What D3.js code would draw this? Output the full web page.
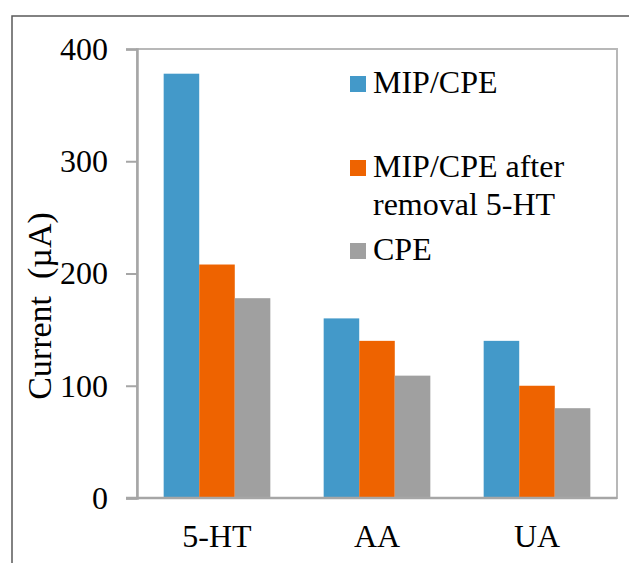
<!DOCTYPE html>
<html>
<head>
<meta charset="utf-8">
<script src="https://cdn.jsdelivr.net/npm/d3@7"></script>
<style>
  body { margin: 0; background: #fff; }
  svg text { font-family: "Liberation Serif", "Times New Roman", serif; fill: #000; }
</style>
</head>
<body>
<div id="chart"></div>
<script>
// data
var categories = ['5-HT', 'AA', 'UA'];
var series = ['MIP/CPE', 'MIP/CPE after removal 5-HT', 'CPE'];
var mip_cpe = [378, 160, 140];
var mip_after = [208, 140, 100];
var cpe = [178, 109, 80];
var y_ticks = [0, 100, 200, 300, 400];
var colors = ['#4399c9', '#ee6300', '#a0a0a0'];

var values = [mip_cpe, mip_after, cpe];
var W = 629, H = 563;
var plot = {left: 137, top: 49, right: 617, bottom: 498};

var svg = d3.select('#chart').append('svg').attr('width', W).attr('height', H);

// outer frame (only top and left visible)
svg.append('path').attr('d', 'M12,' + H + 'V16H' + W)
    .attr('fill', 'none').attr('stroke', '#5a5a5a').attr('stroke-width', 1.5);

// plot area box
svg.append('rect').attr('x', plot.left).attr('y', plot.top)
    .attr('width', plot.right - plot.left).attr('height', plot.bottom - plot.top)
    .attr('fill', 'none').attr('stroke', '#b8b8b8').attr('stroke-width', 2);

var x0 = d3.scaleBand().domain(categories).range([plot.left, plot.right])
    .paddingInner(1 / 3).paddingOuter(1 / 6);
var x1 = d3.scaleBand().domain(series).range([0, x0.bandwidth()]);
var y = d3.scaleLinear().domain([0, 400]).range([plot.bottom, plot.top]);

// bars
series.forEach(function (s, i) {
    svg.append('g').selectAll('rect').data(values[i]).enter().append('rect')
        .attr('x', function (d, k) { return x0(categories[k]) + x1(s); })
        .attr('y', function (d) { return y(d); })
        .attr('width', x1.bandwidth())
        .attr('height', function (d) { return y(0) - y(d); })
        .attr('fill', colors[i]);
});

// y axis
var y_axis = svg.append('g').attr('class', 'y_axis')
    .attr('transform', 'translate(' + plot.left + ',0)')
    .call(d3.axisLeft(y).tickValues(y_ticks).tickSize(11).tickPadding(18).tickFormat(d3.format('d')));
y_axis.select('.domain').attr('stroke', '#a6a6a6').attr('stroke-width', 2.5);
y_axis.selectAll('.tick line').attr('stroke', '#a6a6a6').attr('stroke-width', 2);
y_axis.selectAll('.tick text').attr('font-size', 32).attr('fill', '#000');

// x axis line and labels
svg.append('line').attr('x1', plot.left - 11).attr('x2', plot.right)
    .attr('y1', plot.bottom).attr('y2', plot.bottom)
    .attr('stroke', '#a6a6a6').attr('stroke-width', 2.5);
svg.append('g').selectAll('text').data(categories).enter().append('text')
    .attr('x', function (d) { return x0(d) + x0.bandwidth() / 2; })
    .attr('y', 547).attr('text-anchor', 'middle').attr('font-size', 32)
    .text(function (d) { return d; });

// y title
svg.append('text').attr('transform', 'translate(51,306) rotate(-90)')
    .attr('text-anchor', 'middle').attr('font-size', 34)
    .style('white-space', 'pre')
    .text('Current  (\u00b5A)');

// legend
var legend_rows = [
    {lines: ['MIP/CPE'], y: 93},
    {lines: ['MIP/CPE after', 'removal 5-HT'], y: 177},
    {lines: ['CPE'], y: 260}
];
legend_rows.forEach(function (row, i) {
    svg.append('rect').attr('x', 350).attr('y', row.y - 17).attr('width', 16).attr('height', 16)
        .attr('fill', colors[i]);
    row.lines.forEach(function (t, j) {
        svg.append('text').attr('x', 373).attr('y', row.y + j * 38)
            .attr('font-size', 32).text(t);
    });
});
</script>
</body>
</html>
